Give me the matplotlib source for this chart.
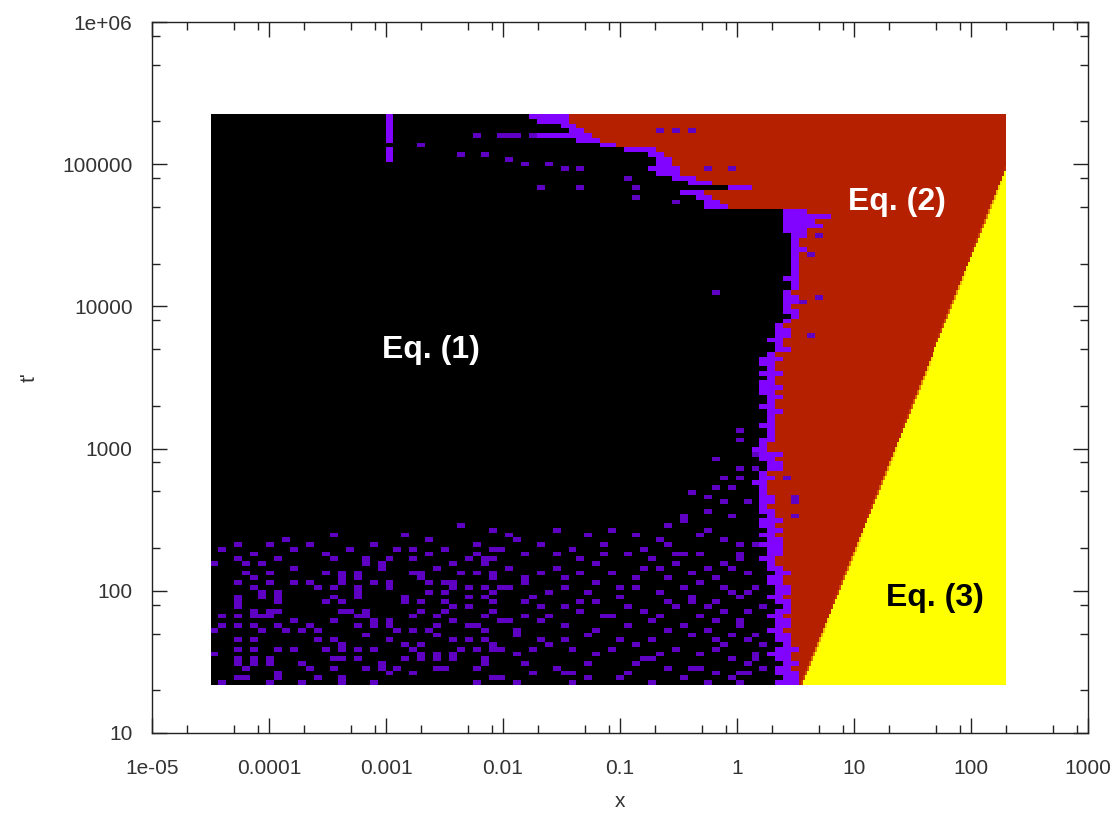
## plot.py
# regime map: which of Eq. (1), (2), (3) applies over (x, t')

import numpy as np
import matplotlib
matplotlib.use('Agg')
import matplotlib.pyplot as plt
from matplotlib.ticker import FixedLocator, FixedFormatter, LogLocator, NullFormatter

## map grid (log spaced cells)
n_cols, n_rows = 100, 120
x_lo, x_hi = 10**-4.5, 10**2.3
t_lo, t_hi = 21.8, 2.25e5
sub = 4   # finer columns used only to draw the Eq.(3) edge

## cell levels (gnuplot palette: 0 black, 0.5 red, 1 yellow)
level_eq1  = 0.0
level_dot  = 0.14
level_edge = 0.25
level_eq2  = 0.5
level_eq3  = 1.0

## Eq.(1)/Eq.(2) edge, one value per row from the bottom
black_end = [71, 72, 71, 71, 72, 71, 70, 71, 72, 71,
             71, 70, 71, 71, 70, 71, 72, 71, 70, 71,
             71, 70, 70, 71, 70, 70, 69, 70, 70, 69,
             70, 69, 70, 69, 69, 70, 69, 69, 69, 69,
             69, 69, 68, 69, 69, 70, 70, 69, 69, 68,
             69, 69, 70, 70, 69, 70, 70, 70, 69, 70,
             70, 69, 69, 69, 70, 69, 70, 69, 69, 70,
             71, 71, 70, 71, 71, 71, 72, 73, 72, 72,
             72, 72, 72, 73, 73, 72, 73, 73, 73, 73,
             73, 73, 73, 73, 73, 72, 72, 72, 72, 72,
             62, 62, 61, 59, 65, 60, 58, 56, 55, 56,
             56, 55, 52, 49, 46, 46, 45, 44, 41, 40]
red_start = [74, 74, 74, 73, 74, 73, 73, 74, 73, 73,
             73, 72, 73, 73, 72, 73, 73, 73, 72, 73,
             73, 72, 72, 73, 72, 71, 71, 72, 72, 72,
             72, 71, 72, 71, 72, 71, 71, 70, 71, 71,
             70, 70, 70, 71, 70, 72, 72, 71, 72, 70,
             70, 71, 71, 71, 71, 71, 71, 72, 71, 71,
             72, 71, 72, 71, 71, 72, 71, 71, 72, 71,
             73, 72, 72, 73, 73, 72, 73, 74, 74, 73,
             74, 74, 73, 74, 74, 74, 74, 74, 74, 74,
             74, 75, 74, 74, 75, 75, 77, 76, 78, 75,
             65, 64, 63, 62, 68, 63, 61, 59, 59, 58,
             58, 57, 56, 51, 49, 48, 47, 46, 45, 45]

## Eq.(2)/Eq.(3) edge: straight line in log-log through two read points
eq3_x = [3.6, 200.0]
eq3_t = [22.0, 9.4e4]

## scattered cells in the low t' band (columns per row, bottom row first)
band_dots = [
    [1, 7, 11, 16, 20, 33, 38, 45, 55, 62, 66],
    [3, 4, 8, 13, 16, 35, 36, 47, 51, 59, 65],
    [8, 22, 25, 40, 44, 45, 52, 63, 66, 67],
    [4, 12, 15, 19, 21, 23, 28, 29, 33, 43, 57, 60, 61, 69],
    [3, 5, 7, 11, 21, 34, 39, 47, 53, 67],
    [3, 5, 7, 15, 16, 18, 24, 26, 28, 30, 34, 54, 55, 65, 68],
    [0, 26, 28, 30, 38, 48, 56, 61, 68],
    [3, 5, 8, 10, 14, 16, 18, 20, 25, 31, 33, 35, 36, 40, 45, 50, 58, 63],
    [16, 24, 26, 35, 42, 53, 64, 69],
    [3, 5, 13, 15, 22, 30, 32, 34, 41, 44, 51, 55, 63, 67],
    [19, 28, 38, 47, 60, 65, 68],
    [0, 6, 9, 11, 13, 23, 25, 27, 34, 38, 48, 57, 62],
    [1, 3, 5, 8, 12, 18, 20, 22, 28, 32, 33, 44, 52, 59, 66],
    [10, 15, 20, 22, 30, 36, 37, 41, 55, 63, 66],
    [1, 3, 5, 6, 7, 18, 19, 25, 28, 34, 39, 42, 49, 50, 56, 61],
    [5, 7, 8, 16, 17, 19, 26, 29, 35, 46, 54, 64, 67],
    [3, 30, 32, 41, 44, 52, 58, 62, 69],
    [3, 8, 14, 16, 24, 26, 29, 35, 39, 46, 48, 57, 60, 63],
    [3, 6, 8, 15, 18, 24, 32, 34, 40, 51, 60, 66],
    [6, 8, 18, 27, 29, 35, 42, 47, 56, 65, 67],
    [5, 13, 15, 18, 22, 30, 32, 34, 36, 37, 44, 51, 53, 59, 64, 68],
    [3, 7, 10, 12, 16, 20, 22, 27, 29, 30, 39, 48, 61],
    [5, 16, 18, 26, 35, 39, 44, 53, 57, 63],
    [4, 7, 14, 16, 18, 25, 26, 31, 33, 35, 41, 46, 50, 60, 67],
    [10, 21, 28, 37, 43, 54, 56, 62, 65],
    [0, 4, 6, 19, 21, 30, 34, 48, 58, 64],
    [3, 8, 15, 19, 22, 25, 32, 34, 35, 46, 55, 66],
    [5, 14, 27, 33, 39, 43, 49, 52, 58, 59, 61, 66],
    [1, 10, 17, 23, 25, 29, 35, 36, 45, 54],
    [3, 7, 12, 20, 33, 41, 49, 57, 66, 68],
    [9, 27, 38, 56, 64],
    [15, 24, 37, 47, 53, 61],
    [35, 43, 50, 62],
    [31, 57],
    [59],
    [59, 65],
    [62],
    [],
    [64, 67],
    [62],
    [60],
    [63, 65],
    [],
    [64, 66],
    [],
    [66, 68],
    [],
    [63],
    [68],
    [],
    [],
    [66],
    [],
    [66],
]

## isolated cells higher up (column, row)
upper_dots = [(26, 113), (33, 115), (36, 115), (37, 115), (38, 115), (40, 115),
              (31, 111), (34, 111), (37, 110), (39, 109), (42, 109), (44, 108), (46, 108),
              (41, 104), (46, 104), (53, 104), (53, 102), (52, 106), (58, 101), (63, 82),
              (56, 116), (58, 116), (60, 116), (62, 108), (65, 108), (75, 90), (76, 94),
              (74, 80), (76, 81), (75, 73), (72, 43), (73, 39), (73, 38), (73, 35)]
bright_dots = [(22, 110), (22, 111), (22, 112), (22, 114), (22, 115), (22, 116),
               (22, 117), (22, 118), (22, 119),
               (41, 115), (42, 115), (43, 115), (44, 115), (45, 115)]

## axes / text
x_ticks = [1e-5, 1e-4, 1e-3, 1e-2, 1e-1, 1, 10, 100, 1000]
x_tick_labels = ['1e-05', '0.0001', '0.001', '0.01', '0.1', '1', '10', '100', '1000']
t_ticks = [10, 100, 1000, 1e4, 1e5, 1e6]
t_tick_labels = ['10', '100', '1000', '10000', '100000', '1e+06']

eq_labels = ['Eq. (1)', 'Eq. (2)', 'Eq. (3)']
eq_x      = [0.0024, 23.5, 49.0]
eq_t      = [4900.0, 5.4e4, 89.0]
eq_colors = ['white', 'white', 'black']


def build_map():
    t_edges = np.logspace(np.log10(t_lo), np.log10(t_hi), n_rows + 1)
    tc = np.sqrt(t_edges[:-1] * t_edges[1:])

    Z = np.full((n_rows, n_cols), level_eq2)
    for r in range(n_rows):
        Z[r, :black_end[r]] = level_eq1
        Z[r, black_end[r]:red_start[r]] = level_edge

    for r, cols in enumerate(band_dots):
        for c in cols:
            if Z[r, c] == level_eq1:
                Z[r, c] = level_dot
    for c, r in upper_dots:
        Z[r, c] = level_dot
    for c, r in bright_dots:
        Z[r, c] = level_edge

    # finer columns, then the region of Eq. (3) with a thin blended edge
    Zf = np.repeat(Z, sub, axis=1)
    lxe = np.linspace(np.log10(x_lo), np.log10(x_hi), n_cols * sub + 1)
    lx0, lx1 = np.log10(eq3_x)
    lt0, lt1 = np.log10(eq3_t)
    slope = (lt1 - lt0) / (lx1 - lx0)
    lx_line = lx0 + (np.log10(tc) - lt0) / slope
    for r in range(n_rows):
        a, b = lxe[:-1], lxe[1:]
        frac = np.clip((b - lx_line[r]) / (b - a), 0, 1)
        red = Zf[r] == level_eq2
        Zf[r, red] = level_eq2 + (level_eq3 - level_eq2) * frac[red]
    return 10**lxe, t_edges, Zf


def plot_map():
    plt.rcParams['font.family'] = ['Liberation Sans', 'DejaVu Sans']
    fig = plt.figure(figsize=(11.19, 8.18), dpi=100)
    ax = fig.add_axes([152 / 1119, 1 - 733 / 818, 936 / 1119, 711 / 818])

    x_edges, t_edges, Z = build_map()
    ax.pcolormesh(x_edges, t_edges, Z, cmap='gnuplot', vmin=0, vmax=1,
                  shading='flat', antialiased=False, edgecolors='none')

    for lab, x, t, col in zip(eq_labels, eq_x, eq_t, eq_colors):
        ax.text(x, t, lab, color=col, fontsize=23, fontweight='bold',
                ha='center', va='center')

    ax.set_xscale('log')
    ax.set_yscale('log')
    ax.set_xlim(1e-5, 1e3)
    ax.set_ylim(10, 1e6)

    ax.xaxis.set_major_locator(FixedLocator(x_ticks))
    ax.xaxis.set_major_formatter(FixedFormatter(x_tick_labels))
    ax.yaxis.set_major_locator(FixedLocator(t_ticks))
    ax.yaxis.set_major_formatter(FixedFormatter(t_tick_labels))
    ax.xaxis.set_minor_locator(LogLocator(base=10, subs=(2, 5, 8), numticks=30))
    ax.yaxis.set_minor_locator(LogLocator(base=10, subs=(2, 5, 8), numticks=30))
    ax.xaxis.set_minor_formatter(NullFormatter())
    ax.yaxis.set_minor_formatter(NullFormatter())

    ax.tick_params(which='both', direction='in', top=True, right=True,
                   width=1.0, color='#222222', labelcolor='#333333', labelsize=15)
    ax.tick_params(which='major', length=11)
    ax.tick_params(which='minor', length=6)
    ax.tick_params(axis='x', which='major', pad=18.5)
    ax.tick_params(axis='y', which='major', pad=14)
    for s in ax.spines.values():
        s.set_linewidth(1.0)
        s.set_color('#222222')

    ax.set_xlabel('x', fontsize=15, color='#333333', labelpad=10.5)
    ax.set_ylabel("t'", fontsize=15, color='#333333', labelpad=17)

    fig.savefig('out.png', dpi=100)
    return


if __name__ == '__main__':
    plot_map()
